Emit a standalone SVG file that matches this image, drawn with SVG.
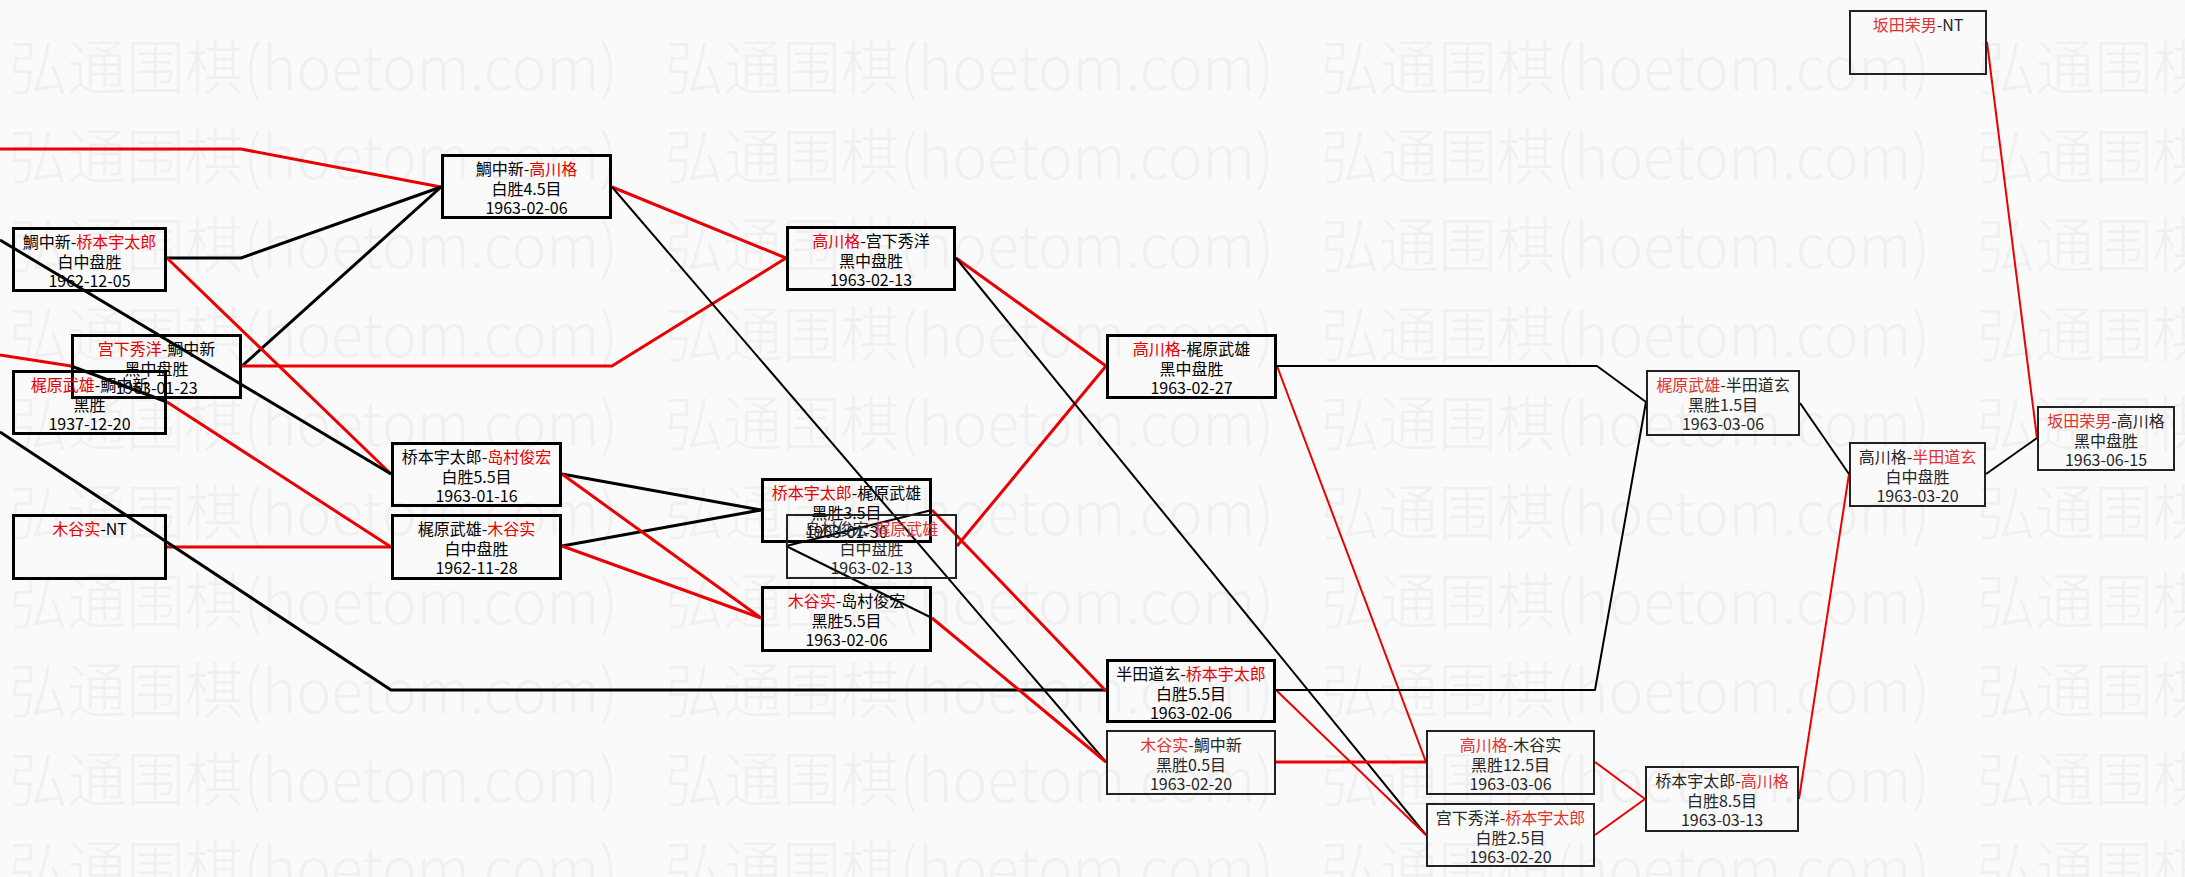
<svg xmlns="http://www.w3.org/2000/svg" xmlns:xlink="http://www.w3.org/1999/xlink" width="2185" height="877" viewBox="0 0 2185 877">
<style>
text{font-family:"Noto Sans CJK SC","Noto Sans",sans-serif;}
.wm{font-size:60px;fill:#f0f0f0;font-weight:300;}
.bk{fill:none;stroke:#000;stroke-width:3;}
.bn{fill:none;stroke:#222;stroke-width:2;}
.t{font-size:16px;fill:#000;text-anchor:middle;}
.tn{font-size:16px;fill:#262626;text-anchor:middle;}
.r{fill:#e80000;}
.rn{fill:#e03232;}
.lk{fill:none;stroke:#000;stroke-width:3;stroke-linejoin:round;}
.lr{fill:none;stroke:#ea0000;stroke-width:3;stroke-linejoin:round;}
.lk2{fill:none;stroke:#000;stroke-width:2;stroke-linejoin:round;}
.lr2{fill:none;stroke:#ea0000;stroke-width:2;stroke-linejoin:round;}
</style>
<defs>
<g id="wmrow">
<text class="wm" x="9" y="0" textLength="609" lengthAdjust="spacingAndGlyphs">弘通围棋(hoetom.com)</text>
<text class="wm" x="665" y="0" textLength="609" lengthAdjust="spacingAndGlyphs">弘通围棋(hoetom.com)</text>
<text class="wm" x="1321" y="0" textLength="609" lengthAdjust="spacingAndGlyphs">弘通围棋(hoetom.com)</text>
<text class="wm" x="1977" y="0" textLength="609" lengthAdjust="spacingAndGlyphs">弘通围棋(hoetom.com)</text>
</g>
</defs>
<rect x="0" y="0" width="2185" height="877" fill="#fafafa"/>
<g id="watermark">
<use xlink:href="#wmrow" y="90"/>
<use xlink:href="#wmrow" y="179"/>
<use xlink:href="#wmrow" y="268"/>
<use xlink:href="#wmrow" y="357"/>
<use xlink:href="#wmrow" y="446"/>
<use xlink:href="#wmrow" y="535"/>
<use xlink:href="#wmrow" y="624"/>
<use xlink:href="#wmrow" y="713"/>
<use xlink:href="#wmrow" y="802"/>
<use xlink:href="#wmrow" y="891"/>
</g>
<g id="connectors">
<polyline class="lr" points="0,149 241,149 441,187"/>
<polyline class="lk" points="167,258 241,258 441,187"/>
<polyline class="lk" points="242,366 441,187"/>
<polyline class="lr" points="167,258 391,474"/>
<polyline class="lk" points="0,240 391,474"/>
<polyline class="lr" points="0,355 71,366"/>
<polyline class="lk" points="167,402 71,366"/>
<polyline class="lr" points="167,402 391,547"/>
<polyline class="lr" points="167,547 391,547"/>
<polyline class="lk" points="0,432 391,690 1106,690"/>
<polyline class="lr" points="242,366 612,366 786,258"/>
<polyline class="lr" points="612,187 786,258"/>
<polyline class="lk" points="562,474 761,510"/>
<polyline class="lk" points="562,546 761,510"/>
<polyline class="lr" points="562,474 761,618"/>
<polyline class="lr" points="562,546 761,618"/>
<polyline class="lr" points="956,258 1106,366"/>
<polyline class="lr" points="957,546 1106,366"/>
<polyline class="lr" points="932,510 1106,691"/>
<polyline class="lk2" points="932,510 786,546"/>
<polyline class="lk2" points="932,618 786,546"/>
<polyline class="lk2" points="612,187 1106,762"/>
<polyline class="lr" points="932,618 1106,762"/>
<polyline class="lk2" points="956,258 1426,835"/>
<polyline class="lr2" points="1277,366 1426,762"/>
<polyline class="lr" points="1276,762 1426,762"/>
<polyline class="lr2" points="1276,690 1426,835"/>
<polyline class="lr2" points="1595,762 1645,799"/>
<polyline class="lr2" points="1595,835 1645,799"/>
<polyline class="lk2" points="1277,366 1597,366 1646,402"/>
<polyline class="lk2" points="1276,690 1595,690 1646,402"/>
<polyline class="lk2" points="1800,403 1849,474"/>
<polyline class="lr2" points="1799,799 1849,474"/>
<polyline class="lk2" points="1986,474 2037,438"/>
<polyline class="lr2" points="1987,42 2037,438"/>
</g>
<g id="n1"><rect class="bn" x="1850" y="11" width="136" height="63"/><text class="tn" x="1918" y="31"><tspan class="rn">坂田荣男</tspan>-NT</text></g>
<g id="n2"><rect class="bk" x="442.5" y="155.5" width="168" height="62"/><text class="t" x="526.5" y="175">鯛中新-<tspan class="r">高川格</tspan></text><text class="t" x="526.5" y="195">白胜4.5目</text><text class="t" x="526.5" y="214">1963-02-06</text></g>
<g id="n3"><rect class="bk" x="13.5" y="228.5" width="152" height="62"/><text class="t" x="89.5" y="248">鯛中新-<tspan class="r">桥本宇太郎</tspan></text><text class="t" x="89.5" y="268">白中盘胜</text><text class="t" x="89.5" y="287">1962-12-05</text></g>
<g id="n4"><rect class="bk" x="787.5" y="227.5" width="167" height="62"/><text class="t" x="871" y="247"><tspan class="r">高川格</tspan>-宫下秀洋</text><text class="t" x="871" y="267">黑中盘胜</text><text class="t" x="871" y="286">1963-02-13</text></g>
<g id="n5"><rect class="bk" x="72.5" y="335.5" width="168" height="62"/><text class="t" x="156.5" y="355"><tspan class="r">宫下秀洋</tspan>-鯛中新</text><text class="t" x="156.5" y="375">黑中盘胜</text><text class="t" x="156.5" y="394">1963-01-23</text></g>
<g id="n6"><rect class="bk" x="13.5" y="371.5" width="152" height="62"/><text class="t" x="89.5" y="391"><tspan class="r">梶原武雄</tspan>-鯛中新</text><text class="t" x="89.5" y="411">黑胜</text><text class="t" x="89.5" y="430">1937-12-20</text></g>
<g id="n7"><rect class="bk" x="1107.5" y="335.5" width="168" height="62"/><text class="t" x="1191.5" y="355"><tspan class="r">高川格</tspan>-梶原武雄</text><text class="t" x="1191.5" y="375">黑中盘胜</text><text class="t" x="1191.5" y="394">1963-02-27</text></g>
<g id="n8"><rect class="bn" x="1647" y="371" width="152" height="64"/><text class="tn" x="1723" y="391"><tspan class="rn">梶原武雄</tspan>-半田道玄</text><text class="tn" x="1723" y="411">黑胜1.5目</text><text class="tn" x="1723" y="430">1963-03-06</text></g>
<g id="n9"><rect class="bn" x="2038" y="407" width="136" height="63"/><text class="tn" x="2106" y="427"><tspan class="rn">坂田荣男</tspan>-高川格</text><text class="tn" x="2106" y="447">黑中盘胜</text><text class="tn" x="2106" y="466">1963-06-15</text></g>
<g id="n10"><rect class="bn" x="1850" y="443" width="135" height="63"/><text class="tn" x="1917.5" y="463">高川格-<tspan class="rn">半田道玄</tspan></text><text class="tn" x="1917.5" y="483">白中盘胜</text><text class="tn" x="1917.5" y="502">1963-03-20</text></g>
<g id="n11"><rect class="bk" x="392.5" y="443.5" width="168" height="62"/><text class="t" x="476.5" y="463">桥本宇太郎-<tspan class="r">岛村俊宏</tspan></text><text class="t" x="476.5" y="483">白胜5.5目</text><text class="t" x="476.5" y="502">1963-01-16</text></g>
<g id="n12"><rect class="bk" x="392.5" y="515.5" width="168" height="63"/><text class="t" x="476.5" y="535">梶原武雄-<tspan class="r">木谷实</tspan></text><text class="t" x="476.5" y="555">白中盘胜</text><text class="t" x="476.5" y="574">1962-11-28</text></g>
<g id="n13"><rect class="bk" x="13.5" y="515.5" width="152" height="63"/><text class="t" x="89.5" y="535"><tspan class="r">木谷实</tspan>-NT</text></g>
<g id="n14"><rect class="bk" x="762.5" y="479.5" width="168" height="62"/><text class="t" x="846.5" y="499"><tspan class="r">桥本宇太郎</tspan>-梶原武雄</text><text class="t" x="846.5" y="519">黑胜3.5目</text><text class="t" x="846.5" y="538">1963-01-30</text></g>
<g id="n15"><rect class="bn" x="787" y="515" width="169" height="63"/><text class="tn" x="871.5" y="535">岛村俊宏-<tspan class="rn">梶原武雄</tspan></text><text class="tn" x="871.5" y="555">白中盘胜</text><text class="tn" x="871.5" y="574">1963-02-13</text></g>
<g id="n16"><rect class="bk" x="762.5" y="587.5" width="168" height="63"/><text class="t" x="846.5" y="607"><tspan class="r">木谷实</tspan>-岛村俊宏</text><text class="t" x="846.5" y="627">黑胜5.5目</text><text class="t" x="846.5" y="646">1963-02-06</text></g>
<g id="n17"><rect class="bk" x="1107.5" y="660.5" width="167" height="61"/><text class="t" x="1191" y="680">半田道玄-<tspan class="r">桥本宇太郎</tspan></text><text class="t" x="1191" y="700">白胜5.5目</text><text class="t" x="1191" y="719">1963-02-06</text></g>
<g id="n18"><rect class="bn" x="1107" y="731" width="168" height="63"/><text class="tn" x="1191" y="751"><tspan class="rn">木谷实</tspan>-鯛中新</text><text class="tn" x="1191" y="771">黑胜0.5目</text><text class="tn" x="1191" y="790">1963-02-20</text></g>
<g id="n19"><rect class="bn" x="1427" y="731" width="167" height="63"/><text class="tn" x="1510.5" y="751"><tspan class="rn">高川格</tspan>-木谷实</text><text class="tn" x="1510.5" y="771">黑胜12.5目</text><text class="tn" x="1510.5" y="790">1963-03-06</text></g>
<g id="n20"><rect class="bn" x="1427" y="804" width="167" height="62"/><text class="tn" x="1510.5" y="824">宫下秀洋-<tspan class="rn">桥本宇太郎</tspan></text><text class="tn" x="1510.5" y="844">白胜2.5目</text><text class="tn" x="1510.5" y="863">1963-02-20</text></g>
<g id="n21"><rect class="bn" x="1646" y="767" width="152" height="64"/><text class="tn" x="1722" y="787">桥本宇太郎-<tspan class="rn">高川格</tspan></text><text class="tn" x="1722" y="807">白胜8.5目</text><text class="tn" x="1722" y="826">1963-03-13</text></g>
</svg>
